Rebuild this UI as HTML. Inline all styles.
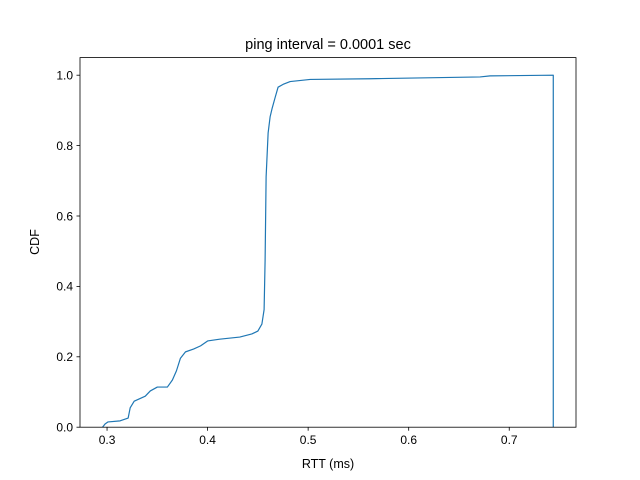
<!DOCTYPE html>
<html><head><meta charset="utf-8"><style>
body{margin:0;background:#fff}
svg{display:block;font-family:"Liberation Sans","DejaVu Sans",sans-serif}
</style></head><body>
<svg id="chart" width="640" height="480">
<rect x="0" y="0" width="640" height="480" fill="#fff"/>
<text x="328" y="49" font-size="14.5" text-anchor="middle">ping interval = 0.0001 sec</text>
<text x="328" y="468" font-size="12.5" text-anchor="middle">RTT (ms)</text>
<text x="0" y="0" font-size="12.5" text-anchor="middle" transform="translate(39,242) rotate(-90)">CDF</text>
<g id="xt"></g><g id="yt"></g>
<path id="line" fill="none" stroke="#1f77b4" stroke-width="1.2" stroke-linejoin="round"/>
<rect x="80" y="57.6" width="496" height="369.6" fill="none" stroke="#000" stroke-width="0.8"/>
</svg>
<script>
const rtt=[0.2955,0.298,0.301,0.313,0.321,0.323,0.327,0.338,0.343,0.350,0.360,0.365,0.369,0.373,0.378,0.386,0.393,0.400,0.412,0.432,0.444,0.450,0.454,0.4562,0.4572,0.4582,0.4602,0.4622,0.4642,0.4672,0.4701,0.4751,0.4821,0.502,0.5617,0.671,0.681,0.7438];
const cdf=[0,0.009,0.015,0.018,0.026,0.055,0.074,0.088,0.103,0.114,0.114,0.134,0.16,0.196,0.214,0.222,0.231,0.245,0.25,0.256,0.265,0.273,0.293,0.334,0.475,0.711,0.836,0.882,0.906,0.937,0.966,0.974,0.982,0.988,0.990,0.995,0.998,1.0];
const xTicks=[0.3,0.4,0.5,0.6,0.7];
const yTicks=[0,0.2,0.4,0.6,0.8,1.0];
const xMin=0.2731,xMax=0.7664,yMin=0,yMax=1.05;
const L=80,R=576,T=57.6,B=427.2;
const sx=v=>L+(v-xMin)/(xMax-xMin)*(R-L);
const sy=v=>B-(v-yMin)/(yMax-yMin)*(B-T);
const NS="http://www.w3.org/2000/svg";
let d="M"+sx(rtt[0])+","+sy(cdf[0]);
for(let i=1;i<rtt.length;i++){d+=" L"+sx(rtt[i])+","+sy(cdf[i]);}
d+=" V"+sy(0);
document.getElementById('line').setAttribute('d',d);
const xt=document.getElementById('xt'),yt=document.getElementById('yt');
xTicks.forEach(v=>{
 const l=document.createElementNS(NS,'line');
 l.setAttribute('x1',sx(v));l.setAttribute('x2',sx(v));l.setAttribute('y1',B);l.setAttribute('y2',B+3.5);l.setAttribute('stroke','#000');l.setAttribute('stroke-width','0.8');
 
 
 xt.appendChild(l);
 const t=document.createElementNS(NS,'text');
 t.setAttribute('x',sx(v));t.setAttribute('y',B+17);t.setAttribute('font-size','12');t.setAttribute('text-anchor','middle');
 t.textContent=v.toFixed(1);
 
 
 xt.appendChild(t);
});
yTicks.forEach(v=>{
 const l=document.createElementNS(NS,'line');
 l.setAttribute('x1',L-3.5);l.setAttribute('x2',L);l.setAttribute('y1',sy(v));l.setAttribute('y2',sy(v));l.setAttribute('stroke','#000');l.setAttribute('stroke-width','0.8');
 
 
 yt.appendChild(l);
 const t=document.createElementNS(NS,'text');
 t.setAttribute('x',L-7);t.setAttribute('y',sy(v)+4.3);t.setAttribute('font-size','12');t.setAttribute('text-anchor','end');
 t.textContent=v.toFixed(1);
 
 
 yt.appendChild(t);
});
</script>
</body></html>
